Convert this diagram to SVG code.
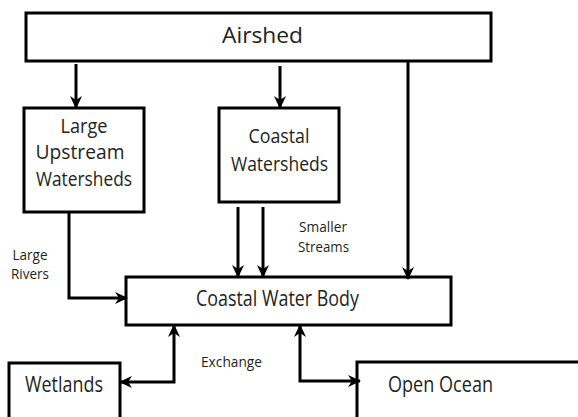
<svg xmlns="http://www.w3.org/2000/svg" width="578" height="417" viewBox="0 0 578 417">
<defs>
<marker id="ah" viewBox="0 0 13 12" refX="12" refY="6" markerWidth="13" markerHeight="12" markerUnits="userSpaceOnUse" orient="auto-start-reverse">
<path d="M0,0 L13,6 L0,12 L4,6 Z" fill="#000"/>
</marker>
<style>
.box{fill:#fff;stroke:#000;stroke-width:3}
.lbl{font-family:"Open Sans","Noto Sans",sans-serif;font-size:19.5px;fill:#231f20;text-anchor:middle}
.big{font-size:22px}
.mid{font-size:21px}
.sm{font-family:"Open Sans","Noto Sans",sans-serif;font-size:15px;fill:#231f20;text-anchor:middle}
.ln{fill:none;stroke:#000;stroke-width:3}
</style>
</defs>
<g id="airshed">
<rect class="box" x="26" y="13" width="465" height="48"/>
<text class="lbl big" x="262.5" y="43" textLength="81" lengthAdjust="spacingAndGlyphs">Airshed</text>
</g>
<g id="large-upstream">
<rect class="box" x="24" y="108" width="120" height="104"/>
<text class="lbl" x="84" y="132.5" textLength="47" lengthAdjust="spacingAndGlyphs">Large</text>
<text class="lbl" x="80" y="159" textLength="89" lengthAdjust="spacingAndGlyphs">Upstream</text>
<text class="lbl" x="84" y="186" textLength="96" lengthAdjust="spacingAndGlyphs">Watersheds</text>
</g>
<g id="coastal-watersheds">
<rect class="box" x="219" y="108" width="120" height="94"/>
<text class="lbl" x="279" y="142.5" textLength="61" lengthAdjust="spacingAndGlyphs">Coastal</text>
<text class="lbl" x="279.5" y="170.5" textLength="97" lengthAdjust="spacingAndGlyphs">Watersheds</text>
</g>
<g id="coastal-water-body">
<rect class="box" x="126" y="277" width="325" height="48"/>
<text class="lbl big" x="277.5" y="306" textLength="163" lengthAdjust="spacingAndGlyphs">Coastal Water Body</text>
</g>
<g id="wetlands">
<rect class="box" x="9" y="363" width="111" height="60"/>
<text class="lbl mid" x="64" y="392" textLength="78" lengthAdjust="spacingAndGlyphs">Wetlands</text>
</g>
<g id="open-ocean">
<rect class="box" x="357" y="362" width="230" height="60"/>
<text class="lbl mid" x="440.5" y="392" textLength="105" lengthAdjust="spacingAndGlyphs">Open Ocean</text>
</g>
<g id="connectors">
<path class="ln" d="M76,64 V108" marker-end="url(#ah)"/>
<path class="ln" d="M280,66 V108" marker-end="url(#ah)"/>
<path class="ln" d="M408,61 V279" marker-end="url(#ah)"/>
<path class="ln" d="M238,207 V277" marker-end="url(#ah)"/>
<path class="ln" d="M263,207 V277" marker-end="url(#ah)"/>
<path class="ln" d="M69,212 V298 H127" marker-end="url(#ah)"/>
<path class="ln" d="M174,325 V382 H120" marker-start="url(#ah)" marker-end="url(#ah)"/>
<path class="ln" d="M300,325 V381 H360" marker-start="url(#ah)" marker-end="url(#ah)"/>
</g>
<g id="labels">
<text class="sm" x="30" y="259.5" textLength="35" lengthAdjust="spacingAndGlyphs">Large</text>
<text class="sm" x="30" y="278.5" textLength="38" lengthAdjust="spacingAndGlyphs">Rivers</text>
<text class="sm" x="323" y="231.5" textLength="48" lengthAdjust="spacingAndGlyphs">Smaller</text>
<text class="sm" x="323.5" y="251.5" textLength="51" lengthAdjust="spacingAndGlyphs">Streams</text>
<text class="sm" x="231.5" y="366.5" textLength="61" lengthAdjust="spacingAndGlyphs">Exchange</text>
</g>
</svg>
